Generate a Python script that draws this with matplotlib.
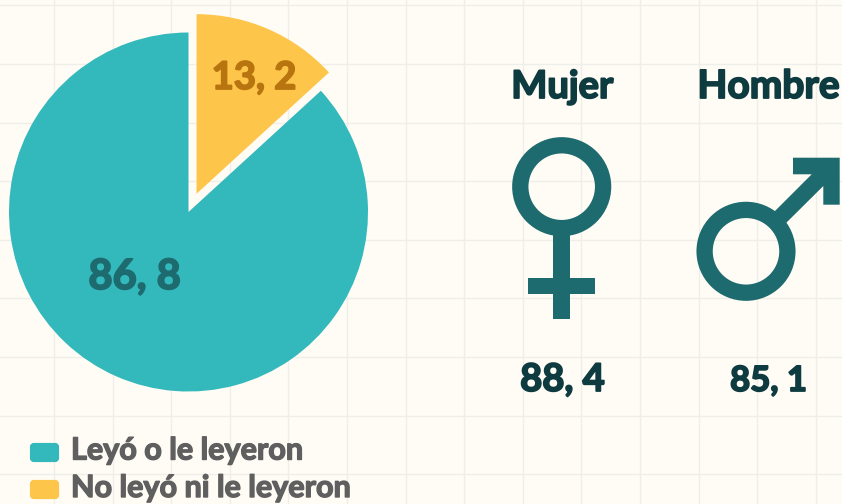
import matplotlib
matplotlib.use("Agg")
import numpy as np
import matplotlib.pyplot as plt
import matplotlib.patheffects as pe
from matplotlib.patches import Circle, FancyBboxPatch, Polygon, Rectangle

# lectura
pie_labels = ["13, 2", "86, 8"]
pie_values = [13.2, 86.8]
legend_labels = ["Leyó o le leyeron", "No leyó ni le leyeron"]
gender_names = ["Mujer", "Hombre"]
gender_labels = ["88, 4", "85, 1"]

TEAL = "#33b8bc"
YELLOW = "#fdc54a"
SYMBOL = "#1d6b6f"
DARK = "#0d3b40"
BROWN = "#b8750f"
GREY = "#5f5f5f"
BG = "#fffcf5"
GRID = "#eeeeea"
FONT = "Lato"

W, H = 842, 504


def py(y):
    # pixeles desde arriba -> eje y
    return H - y


fig = plt.figure(figsize=(W / 100, H / 100), dpi=100, facecolor=BG)
ax = fig.add_axes([0, 0, 1, 1])

# pie, explode va en las mismas unidades que el eje
ax.pie(pie_values, colors=[YELLOW, TEAL], explode=[20, 0], startangle=90,
       counterclock=False, center=(188.5, py(212)), radius=179.5)
ax.set_xlim(0, W)
ax.set_ylim(0, H)
ax.set_aspect("auto")
ax.set_axis_off()

# cuadricula de fondo
for x in np.arange(54, W, 58.6):
    ax.axvline(x, color=GRID, lw=1, zorder=0)
for y in np.arange(5.3, H, 58.6):
    ax.axhline(py(y), color=GRID, lw=1, zorder=0)


def label(x, y, s, color, size, ha="center", bold=1.3):
    t = ax.text(x, py(y), s, color=color, fontsize=size, ha=ha, va="baseline",
                family=FONT, weight="bold", zorder=5)
    t.set_path_effects([pe.withStroke(linewidth=bold, foreground=color)])


label(254, 89, pie_labels[0], BROWN, 27.5)
label(134.5, 289, pie_labels[1], SYMBOL, 30)

# leyenda
for i, (txt, col) in enumerate(zip(legend_labels, [TEAL, YELLOW])):
    top = 443 + 37 * i
    ax.add_patch(FancyBboxPatch((32, py(top + 17)), 25, 15,
                                boxstyle="round,pad=0,rounding_size=2",
                                mutation_aspect=1, fc=col, ec=col, lw=3, zorder=3))
    label(71, 459.5 + 37.5 * i, txt, GREY, 22, ha="left", bold=1.0)

# titulos y valores
label(562.5, 98, gender_names[0], DARK, 27.5)
label(768.5, 98, gender_names[1], DARK, 28)
label(562.5, 391, gender_labels[0], DARK, 27.5)
label(768.5, 391, gender_labels[1], DARK, 25)

# simbolo mujer
ax.add_patch(Circle((561.7, py(186.7)), 41.4, fc="none", ec=SYMBOL, lw=16.3 * 0.72, zorder=3))
ax.add_patch(Rectangle((553.4, py(318.7)), 16.6, 86, fc=SYMBOL, ec="none", zorder=3))
ax.add_patch(Rectangle((528.3, py(294.3)), 66.4, 16.3, fc=SYMBOL, ec="none", zorder=3))

# simbolo hombre
ax.add_patch(Circle((746, py(251.3)), 41.4, fc="none", ec=SYMBOL, lw=16.3 * 0.72, zorder=3))
arrow = [(770, 216), (811.7, 174.3), (793, 174.3), (793, 157.7), (839.7, 157.7),
         (839.7, 204.7), (823.3, 204.7), (823.3, 186), (781, 228)]
ax.add_patch(Polygon([(x, py(y)) for x, y in arrow], closed=True, fc=SYMBOL, ec="none", zorder=3))

fig.savefig("out.png", dpi=100, facecolor=BG)
